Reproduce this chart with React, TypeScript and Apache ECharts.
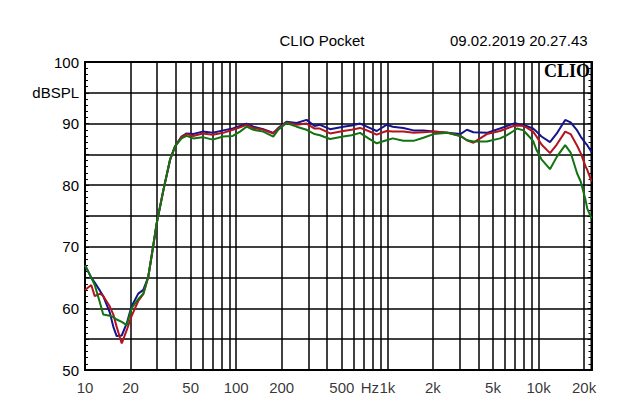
import React, { useEffect, useRef } from "react";
import * as echarts from "echarts";

const freqs = [10, 11, 11.6, 12.6, 13.2, 14.6, 15.4, 16.2, 17.5, 18.9, 20.3, 22.5, 24.3, 26.2, 28, 29.8, 33, 36.5, 39.4, 43.5, 47, 52, 60, 70, 82, 95, 106, 117, 130, 151, 176, 190, 215, 251, 292, 330, 358, 418, 511, 580, 660, 750, 850, 987, 1085, 1274, 1490, 1730, 2020, 2500, 3040, 3360, 3710, 4550, 5560, 6150, 6830, 7200, 7950, 8300, 9200, 9700, 10460, 11900, 13200, 15000, 16300, 18000, 19000, 20500, 21000, 22400];
const blueDb = [67.0, 65.0, 64.2, 62.8, 62.0, 59.3, 57.0, 55.5, 55.6, 57.6, 60.3, 62.4, 63.0, 65.1, 69.5, 73.8, 79.2, 84.1, 86.3, 87.9, 88.4, 88.3, 88.7, 88.5, 88.9, 89.2, 89.6, 90.0, 89.5, 89.1, 88.5, 89.3, 90.3, 90.1, 90.6, 89.6, 89.8, 89.1, 89.5, 89.7, 90.0, 89.4, 88.8, 89.8, 89.5, 89.3, 88.9, 88.9, 88.7, 88.5, 88.3, 89.0, 88.6, 88.5, 89.2, 89.6, 90.0, 90.0, 89.7, 89.6, 89.2, 88.7, 87.9, 87.0, 88.4, 90.6, 90.2, 88.9, 87.9, 86.8, 86.5, 85.4];
const redDb = [63.0, 63.8, 62.0, 62.4, 62.0, 60.3, 59.0, 57.0, 54.3, 56.5, 58.7, 61.2, 62.3, 65.1, 69.5, 73.8, 79.2, 84.1, 86.3, 87.8, 88.3, 88.0, 88.4, 88.2, 88.5, 89.0, 89.4, 89.8, 89.3, 89.0, 88.4, 89.2, 90.2, 89.8, 90.0, 89.2, 89.2, 88.4, 88.8, 89.0, 89.3, 88.8, 88.2, 88.8, 88.7, 88.7, 88.5, 88.6, 88.7, 88.5, 88.0, 87.3, 86.9, 88.3, 88.8, 89.2, 89.6, 89.7, 89.6, 89.4, 88.7, 87.9, 86.6, 85.2, 86.6, 88.7, 88.3, 86.4, 85.2, 83.0, 82.5, 80.6];
const greenDb = [67.0, 65.0, 63.8, 60.8, 59.0, 58.8, 58.6, 58.2, 57.8, 57.3, 60.0, 61.5, 62.4, 65.1, 69.5, 73.8, 79.2, 84.1, 86.3, 87.6, 88.0, 87.6, 87.8, 87.4, 87.9, 88.0, 88.7, 89.5, 89.0, 88.7, 87.9, 89.0, 90.1, 89.5, 89.0, 88.3, 88.1, 87.5, 87.9, 88.1, 88.5, 87.6, 86.8, 87.3, 87.6, 87.2, 87.2, 87.7, 88.3, 88.5, 88.0, 87.3, 87.1, 87.1, 87.6, 88.1, 88.8, 89.2, 88.9, 88.4, 87.2, 85.7, 84.2, 82.6, 84.6, 86.5, 85.3, 81.9, 80.6, 77.5, 76.2, 74.6];

const gridFreqs = [20, 30, 40, 50, 60, 70, 80, 90, 100, 200, 300, 400, 500, 600, 700, 800, 900, 1000, 2000, 3000, 4000, 5000, 6000, 7000, 8000, 9000, 10000, 20000];
const tickFreqs = [10, 20, 50, 100, 200, 500, 1000, 2000, 5000, 10000, 20000];
const tickLabels = ["10", "20", "50", "100", "200", "500", "1k", "2k", "5k", "10k", "20k"];
const unitFreq = 767;
const unitLabel = "Hz";
const yUnitValue = 95;
const yUnitLabel = "dBSPL";
const titleText = "CLIO Pocket";
const dateText = "09.02.2019 20.27.43";
const brandText = "CLIO";

const FONT = '"Liberation Sans", Arial, sans-serif';

export default function App() {
  const ref = useRef<HTMLDivElement>(null);
  useEffect(() => {
    document.body.style.margin = "0";
    const chart = echarts.init(ref.current!, undefined, { renderer: "svg" });
    const labelPoints = tickFreqs.map((f, i) => ({ value: [f, 50], label: { formatter: tickLabels[i] } }));
    labelPoints.push({ value: [unitFreq, 50], label: { formatter: unitLabel } });
    const mk = (name: string, vals: number[], color: string) => ({
      type: "line",
      name,
      data: freqs.map((f, i) => [f, vals[i]]),
      showSymbol: false,
      symbol: "none",
      lineStyle: { color, width: 2 },
      z: 5,
      silent: true,
    });
    chart.setOption({
      animation: false,
      backgroundColor: "#fff",
      textStyle: { fontFamily: FONT },
      grid: { left: 85, top: 62, right: 48.5, bottom: 42, show: true, borderColor: "#000", borderWidth: 2, backgroundColor: "#fff" },
      xAxis: {
        type: "log",
        logBase: 10,
        min: 10,
        max: 22400,
        axisLabel: { show: false },
        axisTick: { show: false },
        splitLine: { show: false },
        axisLine: { show: true, lineStyle: { color: "#000", width: 2 } },
      },
      yAxis: [
        {
          type: "value",
          min: 50,
          max: 100,
          interval: 5,
          position: "left",
          axisLine: { show: true, lineStyle: { color: "#000", width: 2 } },
          axisTick: { show: true, inside: true, length: 4, lineStyle: { color: "#000" } },
          minorTick: { show: true, splitNumber: 5, length: 3, lineStyle: { color: "#000" } },
          splitLine: { show: true, lineStyle: { color: "#000", width: 1.5 } },
          axisLabel: {
            color: "#000",
            fontSize: 15,
            fontFamily: FONT,
            margin: 6,
            formatter: (v: number) => (v === yUnitValue ? yUnitLabel : v % 10 === 0 ? String(v) : ""),
          },
        },
        {
          type: "value",
          min: 50,
          max: 100,
          interval: 5,
          position: "right",
          axisLine: { show: true, lineStyle: { color: "#000", width: 2 } },
          axisTick: { show: true, inside: true, length: 4, lineStyle: { color: "#000" } },
          minorTick: { show: true, splitNumber: 5, length: 3, lineStyle: { color: "#000" } },
          splitLine: { show: false },
          axisLabel: { show: false },
        },
      ],
      series: [
        {
          type: "scatter",
          data: labelPoints,
          symbolSize: 1,
          itemStyle: { color: "transparent" },
          silent: true,
          z: 1,
          label: { show: true, position: "bottom", distance: 9, color: "#000", fontSize: 15, fontFamily: FONT },
          markLine: {
            silent: true,
            symbol: ["none", "none"],
            label: { show: false },
            lineStyle: { color: "#000", width: 1.5, type: "solid" },
            data: gridFreqs.map((f) => ({ xAxis: f })),
          },
        },
        mk("blue", blueDb, "#14148c"),
        mk("red", redDb, "#b4141e"),
        mk("green", greenDb, "#127312"),
      ],
      graphic: [
        { type: "text", x: 322, y: 40, style: { text: titleText, font: `15px ${FONT}`, fill: "#000", textAlign: "center", textVerticalAlign: "middle" } },
        { type: "text", x: 450, y: 40, style: { text: dateText, font: `15px ${FONT}`, fill: "#000", textAlign: "left", textVerticalAlign: "middle" } },
        { type: "text", x: 590, y: 71, z: 10, style: { text: brandText, font: `bold 18px "Liberation Serif", "Times New Roman", serif`, fill: "#000", textAlign: "right", textVerticalAlign: "middle" } },
      ],
    });
    return () => chart.dispose();
  }, []);
  return <div ref={ref} style={{ position: "fixed", left: 0, top: 0, width: 640, height: 412 }} />;
}
